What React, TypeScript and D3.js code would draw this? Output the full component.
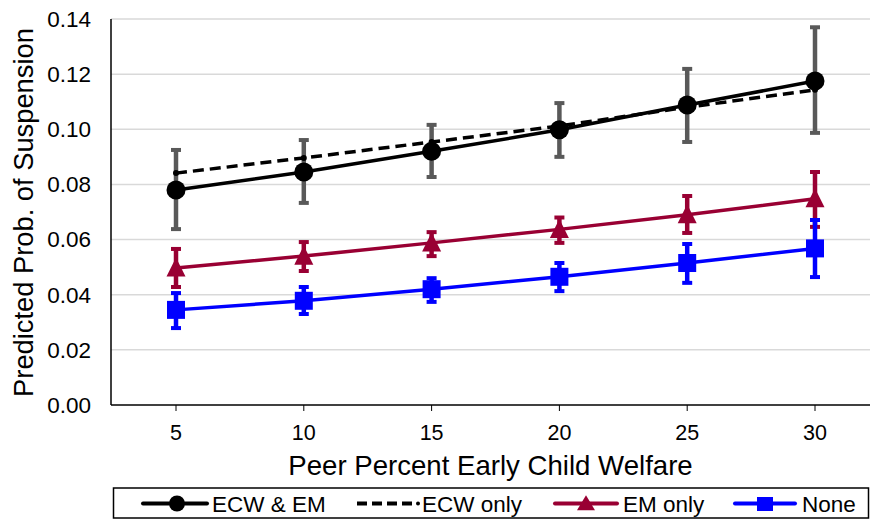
import React from "react";
import * as d3 from "d3";

const xValues = [5, 10, 15, 20, 25, 30];
const yTicks = [0, 0.02, 0.04, 0.06, 0.08, 0.1, 0.12, 0.14];

const ecwEm = [0.078, 0.0845, 0.092, 0.0998, 0.1088, 0.1175];
const ecwEmLo = [0.0638, 0.0733, 0.0827, 0.09, 0.0954, 0.0987];
const ecwEmHi = [0.0925, 0.0961, 0.1016, 0.1095, 0.1219, 0.137];
const ecwOnly = [0.0841, 0.0896, 0.0954, 0.1012, 0.108, 0.1143];
const emOnly = [0.0497, 0.054, 0.0588, 0.0637, 0.069, 0.0748];
const emLo = [0.0428, 0.0486, 0.054, 0.0588, 0.0624, 0.0646];
const emHi = [0.0566, 0.0591, 0.0627, 0.068, 0.0758, 0.0845];
const noneVals = [0.0345, 0.0378, 0.042, 0.0465, 0.0515, 0.0568];
const noneLo = [0.0279, 0.033, 0.0374, 0.0413, 0.0443, 0.0464];
const noneHi = [0.0406, 0.0428, 0.046, 0.0515, 0.0584, 0.0671];

const seriesNames = ["ECW & EM", "ECW only", "EM only", "None"];

const FONT = "'Liberation Sans', Arial, sans-serif";
const RED = "#990033";
const BLUE = "#0000ff";
const GREY = "#595959";

const W = 873;
const H = 519;

export default function App() {
  const x = d3.scaleLinear().domain([5, 30]).range([176, 815]);
  const y = d3.scaleLinear().domain([0, 0.14]).range([405, 19]);
  const left = 111;
  const right = 870;

  const line = d3
    .line<number>()
    .x((_, i) => x(xValues[i]))
    .y((d) => y(d));

  const errBars = (lo: number[], hi: number[], color: string, key: string) =>
    xValues.map((xv, i) => {
      const cx = x(xv);
      return (
        <g key={key + i} stroke={color} strokeWidth={4.5}>
          <line x1={cx} x2={cx} y1={y(lo[i])} y2={y(hi[i])} />
          <line x1={cx - 5} x2={cx + 5} y1={y(lo[i])} y2={y(lo[i])} strokeWidth={4} />
          <line x1={cx - 5} x2={cx + 5} y1={y(hi[i])} y2={y(hi[i])} strokeWidth={4} />
        </g>
      );
    });

  const tri = (cx: number, cy: number, w: number, h: number) =>
    `M${cx},${cy - h * 0.55} L${cx + w / 2},${cy + h * 0.45} L${cx - w / 2},${cy + h * 0.45} Z`;

  return (
    <svg width={W} height={H} style={{ position: "absolute", left: 0, top: 0, background: "#fff" }}>
      <rect x={0} y={0} width={W} height={H} fill="#fff" />
      {/* gridlines */}
      {yTicks.slice(1).map((t) => (
        <line key={"g" + t} x1={left} x2={right} y1={y(t)} y2={y(t)} stroke="#d9d9d9" strokeWidth={1.5} />
      ))}
      {/* axes */}
      <line x1={left} x2={left} y1={y(0.14)} y2={405} stroke="#000" strokeWidth={1.5} />
      <line x1={left} x2={right} y1={405} y2={405} stroke="#000" strokeWidth={1.5} />
      {xValues.map((v) => (
        <line key={"xt" + v} x1={x(v)} x2={x(v)} y1={405} y2={411} stroke="#000" strokeWidth={1} />
      ))}
      {/* y tick labels */}
      {yTicks.map((t) => (
        <text key={"yl" + t} x={91} y={y(t)} dy="0.35em" textAnchor="end" fontFamily={FONT} fontSize={22.5} fill="#000">
          {t.toFixed(2)}
        </text>
      ))}
      {/* x tick labels */}
      {xValues.map((v) => (
        <text key={"xl" + v} x={x(v)} y={440} textAnchor="middle" fontFamily={FONT} fontSize={21.5} fill="#000">
          {v}
        </text>
      ))}
      <text x={490.5} y={475} textAnchor="middle" fontFamily={FONT} fontSize={27.6} fill="#000">
        Peer Percent Early Child Welfare
      </text>
      <text
        transform={`translate(33,212.5) rotate(-90)`}
        textAnchor="middle"
        fontFamily={FONT}
        fontSize={27.3}
        fill="#000"
      >
        Predicted Prob. of Suspension
      </text>

      {/* Series 1: ECW & EM */}
      {errBars(ecwEmLo, ecwEmHi, GREY, "e1")}
      <path d={line(ecwEm) || ""} fill="none" stroke="#000" strokeWidth={3.5} />
      {ecwEm.map((v, i) => (
        <circle key={"c1" + i} cx={x(xValues[i])} cy={y(v)} r={9.5} fill="#000" />
      ))}

      {/* Series 2: ECW only */}
      <path d={line(ecwOnly) || ""} fill="none" stroke="#000" strokeWidth={3.5} strokeDasharray="11,6" />
      {ecwOnly.map((v, i) => (
        <circle key={"c2" + i} cx={x(xValues[i])} cy={y(v)} r={3} fill="#000" />
      ))}

      {/* Series 3: EM only */}
      {errBars(emLo, emHi, RED, "e3")}
      <path d={line(emOnly) || ""} fill="none" stroke={RED} strokeWidth={3.5} />
      {emOnly.map((v, i) => (
        <path key={"t3" + i} d={tri(x(xValues[i]), y(v), 19, 19)} fill={RED} />
      ))}

      {/* Series 4: None */}
      {errBars(noneLo, noneHi, BLUE, "e4")}
      <path d={line(noneVals) || ""} fill="none" stroke={BLUE} strokeWidth={3.5} />
      {noneVals.map((v, i) => (
        <rect key={"s4" + i} x={x(xValues[i]) - 9} y={y(v) - 9} width={18} height={18} fill={BLUE} />
      ))}

      {/* Legend */}
      <rect x={113.5} y={488} width={755} height={30} fill="#fff" stroke="#000" strokeWidth={1.5} />
      <g fontFamily={FONT} fontSize={22.5} fill="#000">
        <line x1={143} x2={207} y1={503.5} y2={503.5} stroke="#000" strokeWidth={4} strokeLinecap="round" />
        <circle cx={177} cy={503.5} r={8} fill="#000" />
        <text x={212} y={512}>{seriesNames[0]}</text>

        <line x1={357} x2={413} y1={503.5} y2={503.5} stroke="#000" strokeWidth={4} strokeDasharray="10,5" />
        <circle cx={418} cy={503.5} r={2} fill="#000" />
        <text x={422} y={512}>{seriesNames[1]}</text>

        <line x1={555} x2={617} y1={503.5} y2={503.5} stroke={RED} strokeWidth={4} strokeLinecap="round" />
        <path d={tri(586, 503.5, 18, 15)} fill={RED} />
        <text x={623} y={512}>{seriesNames[2]}</text>

        <line x1={735} x2={795} y1={503.5} y2={503.5} stroke={BLUE} strokeWidth={4} strokeLinecap="round" />
        <rect x={757} y={497} width={16} height={14} fill={BLUE} />
        <text x={802} y={512}>{seriesNames[3]}</text>
      </g>
    </svg>
  );
}
